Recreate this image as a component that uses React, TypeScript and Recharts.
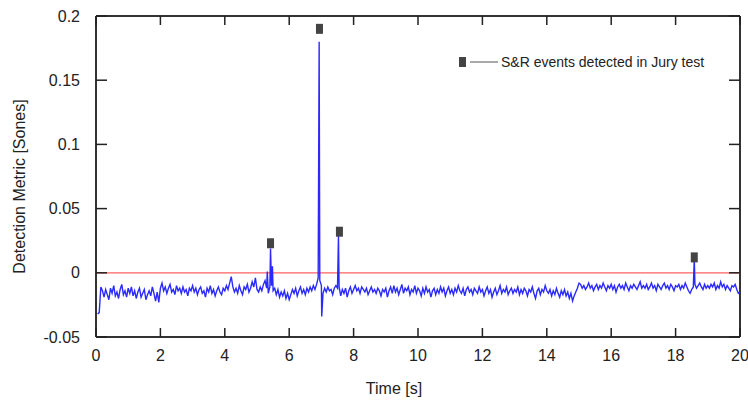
import { ComposedChart, Legend, Line, ReferenceLine, Scatter, XAxis, YAxis } from "recharts";

const FONT = "'Liberation Sans', Arial, Helvetica, sans-serif";
const W = 748;
const H = 401;
const LEFT = 96;
const RIGHT = 740;
const TOP = 16;
const BOTTOM = 337;

// detection metric, sampled every 0.05 s from t = 0.05 s to 20.00 s (one row per second)
const metricStep = 0.05;
const metric = [
  -0.032, -0.031, -0.011, -0.014, -0.019, -0.013, -0.017, -0.021, -0.012, -0.016, -0.010, -0.018, -0.015, -0.020, -0.013, -0.009, -0.017, -0.014, -0.019, -0.012,
  -0.016, -0.011, -0.018, -0.014, -0.020, -0.015, -0.012, -0.019, -0.016, -0.013, -0.021, -0.017, -0.014, -0.018, -0.011, -0.016, -0.022, -0.015, -0.023, -0.012,
  -0.008, -0.014, -0.011, -0.016, -0.012, -0.009, -0.015, -0.013, -0.017, -0.010, -0.014, -0.012, -0.016, -0.011, -0.015, -0.013, -0.018, -0.012, -0.014, -0.010,
  -0.015, -0.012, -0.017, -0.013, -0.011, -0.016, -0.014, -0.019, -0.012, -0.015, -0.010, -0.016, -0.013, -0.018, -0.014, -0.011, -0.015, -0.017, -0.012, -0.014,
  -0.010, -0.013, -0.008, -0.003, -0.011, -0.015, -0.012, -0.016, -0.010, -0.014, -0.017, -0.011, -0.013, -0.009, -0.015, -0.012, -0.007, -0.011, -0.004, -0.013,
  -0.015, -0.011, -0.014, -0.009, -0.006, -0.012, -0.016, -0.011, -0.010, -0.014, -0.012, -0.017, -0.013, -0.019, -0.015, -0.018, -0.014, -0.020, -0.016, -0.021,
  -0.017, -0.013, -0.016, -0.012, -0.018, -0.014, -0.011, -0.016, -0.013, -0.017, -0.012, -0.015, -0.011, -0.014, -0.010, -0.013, -0.009, -0.004, -0.006, -0.010,
  -0.016, -0.012, -0.015, -0.011, -0.014, -0.013, -0.017, -0.012, -0.010, -0.012, -0.011, -0.018, -0.013, -0.016, -0.012, -0.019, -0.014, -0.011, -0.016, -0.013,
  -0.010, -0.014, -0.012, -0.016, -0.011, -0.013, -0.015, -0.012, -0.017, -0.014, -0.011, -0.015, -0.013, -0.016, -0.012, -0.014, -0.018, -0.013, -0.015, -0.012,
  -0.019, -0.014, -0.011, -0.016, -0.010, -0.015, -0.012, -0.017, -0.013, -0.009, -0.016, -0.012, -0.014, -0.011, -0.017, -0.013, -0.015, -0.010, -0.016, -0.012,
  -0.014, -0.018, -0.012, -0.016, -0.011, -0.015, -0.013, -0.019, -0.014, -0.012, -0.017, -0.013, -0.016, -0.011, -0.015, -0.012, -0.018, -0.014, -0.011, -0.016,
  -0.013, -0.017, -0.012, -0.015, -0.010, -0.014, -0.016, -0.012, -0.018, -0.013, -0.011, -0.015, -0.013, -0.017, -0.012, -0.014, -0.016, -0.011, -0.015, -0.013,
  -0.018, -0.014, -0.011, -0.016, -0.013, -0.019, -0.015, -0.012, -0.017, -0.014, -0.010, -0.016, -0.013, -0.015, -0.011, -0.017, -0.014, -0.012, -0.016, -0.013,
  -0.015, -0.011, -0.017, -0.013, -0.016, -0.012, -0.014, -0.018, -0.013, -0.015, -0.011, -0.016, -0.020, -0.014, -0.012, -0.017, -0.013, -0.015, -0.010, -0.014,
  -0.016, -0.013, -0.018, -0.014, -0.017, -0.012, -0.016, -0.019, -0.014, -0.017, -0.013, -0.018, -0.015, -0.020, -0.016, -0.022, -0.018, -0.015, -0.012, -0.008,
  -0.009, -0.012, -0.010, -0.013, -0.011, -0.008, -0.012, -0.010, -0.014, -0.011, -0.009, -0.013, -0.010, -0.012, -0.008, -0.011, -0.014, -0.010, -0.012, -0.009,
  -0.013, -0.010, -0.015, -0.011, -0.009, -0.012, -0.010, -0.013, -0.008, -0.011, -0.014, -0.010, -0.012, -0.009, -0.011, -0.013, -0.010, -0.007, -0.012, -0.010,
  -0.012, -0.009, -0.013, -0.011, -0.008, -0.012, -0.010, -0.014, -0.009, -0.011, -0.013, -0.010, -0.008, -0.012, -0.010, -0.013, -0.009, -0.011, -0.014, -0.010,
  -0.011, -0.009, -0.013, -0.010, -0.012, -0.008, -0.011, -0.014, -0.016, -0.013, -0.011, -0.009, -0.012, -0.010, -0.008, -0.011, -0.013, -0.009, -0.012, -0.010,
  -0.012, -0.009, -0.011, -0.008, -0.013, -0.010, -0.012, -0.007, -0.011, -0.009, -0.013, -0.010, -0.012, -0.014, -0.010, -0.011, -0.009, -0.013, -0.016, -0.015,
];

// short peaks that fall between the regular samples
const spikeTimes = [5.32, 5.42, 5.48, 6.93, 7.01, 7.53, 18.58];
const spikeValues = [0.001, 0.019, 0.005, 0.18, -0.034, 0.029, 0.011];

// S&R events detected in the jury test
const eventTimes = [5.42, 6.94, 7.56, 18.58];
const eventValues = [0.023, 0.19, 0.032, 0.012];

const xTicks = [0, 2, 4, 6, 8, 10, 12, 14, 16, 18, 20];
const yTicks = [-0.05, 0, 0.05, 0.1, 0.15, 0.2];

const lineData = [
  ...metric.map((v, i) => ({ t: +(metricStep * (i + 1)).toFixed(2), v })),
  ...spikeTimes.map((t, i) => ({ t, v: spikeValues[i] })),
].sort((a, b) => a.t - b.t);

const eventData = eventTimes.map((t, i) => ({ t, v: eventValues[i] }));

function XTick({ x, y, payload }: any) {
  return (
    <g>
      <line x1={x} x2={x} y1={BOTTOM} y2={BOTTOM - 9} stroke="#222" strokeWidth={1.5} />
      <line x1={x} x2={x} y1={TOP} y2={TOP + 9} stroke="#222" strokeWidth={1.5} />
      <text x={x} y={y} dy="0.71em" textAnchor="middle" fontSize={16} fill="#222" fontFamily={FONT}>
        {payload.value}
      </text>
    </g>
  );
}

function YTick({ x, y, payload }: any) {
  return (
    <g>
      <line x1={LEFT} x2={LEFT + 11} y1={y} y2={y} stroke="#222" strokeWidth={1.5} />
      <line x1={RIGHT - 11} x2={RIGHT} y1={y} y2={y} stroke="#222" strokeWidth={1.5} />
      <text x={x} y={y} dy="0.355em" textAnchor="end" fontSize={16} fill="#222" fontFamily={FONT}>
        {payload.value}
      </text>
    </g>
  );
}

function EventMark({ cx, cy }: any) {
  return <rect x={cx - 3.5} y={cy - 5} width={7} height={10} fill="#444" />;
}

function LegendBox() {
  return (
    <div style={{ display: "flex", alignItems: "center", fontFamily: FONT, fontSize: 14, color: "#222" }}>
      <svg width={45} height={14}>
        <rect x={3} y={2} width={7} height={10} fill="#444" />
        <line x1={14} x2={42} y1={7} y2={7} stroke="#555" strokeWidth={1} />
      </svg>
      <span>S&amp;R events detected in Jury test</span>
    </div>
  );
}

export default function App() {
  return (
    <div style={{ position: "absolute", left: 0, top: 0, width: W, height: H, background: "#fff" }}>
      <ComposedChart width={W} height={H} margin={{ top: TOP, right: W - RIGHT, bottom: 0, left: 0 }}>
        <XAxis
          dataKey="t"
          type="number"
          domain={[0, 20]}
          ticks={xTicks}
          height={H - BOTTOM}
          tickSize={0}
          tickMargin={13}
          tick={<XTick />}
          axisLine={{ stroke: "#333", strokeWidth: 2 }}
          label={{
            content: ({ viewBox }: any) => (
              <text x={394} y={viewBox.y + viewBox.height - 7} textAnchor="middle" fontSize={16} fill="#222" fontFamily={FONT}>
                Time [s]
              </text>
            ),
          }}
        />
        <YAxis
          dataKey="v"
          type="number"
          domain={[-0.05, 0.2]}
          ticks={yTicks}
          width={LEFT}
          tickSize={0}
          tickMargin={16}
          tick={<YTick />}
          axisLine={{ stroke: "#333", strokeWidth: 2 }}
          allowDataOverflow
          label={{
            content: ({ viewBox }: any) => {
              const cx = 19;
              const cy = viewBox.y + viewBox.height / 2 + 10;
              return (
                <text x={cx} y={cy} transform={`rotate(-90 ${cx} ${cy})`} dy="0.355em" textAnchor="middle" fontSize={16} fill="#222" fontFamily={FONT}>
                  Detection Metric [Sones]
                </text>
              );
            },
          }}
        />
        <ReferenceLine y={0.2} stroke="#333" strokeWidth={2} />
        <ReferenceLine x={20} stroke="#333" strokeWidth={2} />
        <ReferenceLine y={0} stroke="#ff6060" strokeWidth={1.2} />
        <Line
          data={lineData}
          dataKey="v"
          type="linear"
          stroke="#2a2aff"
          strokeWidth={1.4}
          dot={false}
          activeDot={false}
          isAnimationActive={false}
        />
        <Scatter data={eventData} dataKey="v" shape={<EventMark />} isAnimationActive={false} />
        <Legend
          layout="horizontal"
          verticalAlign="middle"
          align="center"
          content={() => <LegendBox />}
          wrapperStyle={{ position: "absolute", left: 456, top: 54, width: "auto", height: "auto" }}
        />
      </ComposedChart>
    </div>
  );
}
